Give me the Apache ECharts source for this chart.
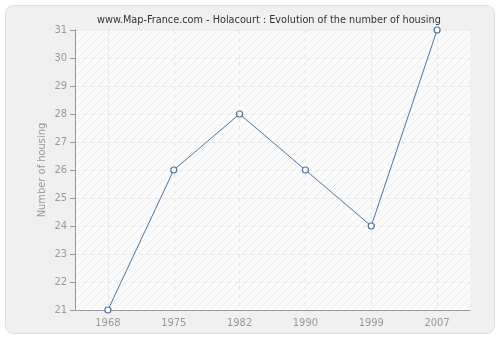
<!DOCTYPE html>
<html><head><meta charset="utf-8">
<script src="https://cdn.jsdelivr.net/npm/echarts@6/dist/echarts.min.js"></script>
<style>html,body{margin:0;padding:0;background:#fff;}#c{width:500px;height:340px;}</style>
</head><body><div id="c"></div>
<script>
const categories = ['1968','1975','1982','1990','1999','2007'];
const housing = [21, 26, 28, 26, 24, 31];
const titleText = 'www.Map-France.com - Holacourt : Evolution of the number of housing';
const yAxisName = 'Number of housing';
const FONT = '"DejaVu Sans Condensed", "Liberation Sans", sans-serif';

function hatch(){
  const cv = document.createElement('canvas');
  cv.width = 8; cv.height = 8;
  const ctx = cv.getContext('2d');
  ctx.fillStyle = '#fbfbfb';
  ctx.fillRect(0,0,8,8);
  ctx.strokeStyle = '#ececec';
  ctx.lineWidth = 1;
  ctx.beginPath();
  ctx.moveTo(0,8); ctx.lineTo(8,0);
  ctx.moveTo(-4,4); ctx.lineTo(4,-4);
  ctx.moveTo(4,12); ctx.lineTo(12,4);
  ctx.stroke();
  return cv;
}

const chart = echarts.init(document.getElementById('c'), null, {renderer:'canvas'});
chart.setOption({
  animation:false,
  backgroundColor:'#ffffff',
  graphic:[{type:'rect', z:-10, shape:{x:5.5,y:5.5,width:489,height:328,r:8},
    style:{fill:'#f0f0f0', stroke:'#dedede', lineWidth:1}}],
  title:{text:titleText, left:92, top:10,
    textStyle:{fontFamily:FONT, fontSize:10.8, fontWeight:'normal', color:'#333'}},
  grid:{left:75, right:30, top:30, bottom:30, show:true,
    backgroundColor:{image:hatch(), repeat:'repeat'}, borderWidth:0},
  xAxis:{type:'category', data:categories, boundaryGap:true,
    axisLine:{lineStyle:{color:'#999'}},
    axisTick:{alignWithLabel:true, length:5, lineStyle:{color:'#999'}},
    axisLabel:{color:'#999', fontFamily:FONT, fontSize:11, margin:8},
    splitLine:{show:true, alignWithLabel:true, lineStyle:{color:'#e4e4e4', type:[4,4]}}},
  yAxis:{type:'value', min:21, max:31, interval:1, name:yAxisName,
    nameLocation:'middle', nameGap:27, nameMoveOverlap:false,
    nameTextStyle:{color:'#999', fontFamily:FONT, fontSize:11},
    axisLine:{show:true, lineStyle:{color:'#999'}},
    axisTick:{show:true, length:5, lineStyle:{color:'#999'}},
    axisLabel:{color:'#999', fontFamily:FONT, fontSize:11, margin:8},
    splitLine:{show:true, lineStyle:{color:'#e4e4e4', type:[4,4]}}},
  series:[{type:'line', data:housing, symbol:'circle', symbolSize:6,
    lineStyle:{color:'#4a76a8', width:1},
    itemStyle:{color:'#fff', borderColor:'#4a76a8', borderWidth:1.2}}]
});
</script></body></html>
